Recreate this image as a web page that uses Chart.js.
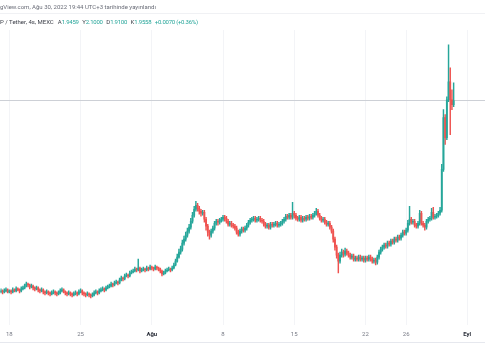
<!DOCTYPE html>
<html lang="tr">
<head>
<meta charset="utf-8">
<title>P / Tether, 4s, MEXC</title>
<script src="https://cdn.jsdelivr.net/npm/chart.js@4.4.1/dist/chart.umd.min.js"></script>
<style>
  html, body { margin: 0; padding: 0; background: #fff; }
  #wrap { position: relative; width: 485px; height: 360px; overflow: hidden; font-family: Roboto, sans-serif; }
  #chart { position: absolute; left: 0; top: 0; }
  .head { position: absolute; left: 0; white-space: nowrap; font-size: 6px; line-height: 8px; }
  #published { top: 3px; color: #6a6d78; }
  #sep { position: absolute; left: 0; top: 13px; width: 485px; height: 1px; background: #f0f1f4; }
  #legend { top: 18px; color: #3b3e47; }
  #legend span { margin-left: 3.5px; }
  #legend span:first-child { margin-left: 4px; }
  #legend b { font-weight: normal; color: #26a69a; letter-spacing: -0.25px; }
  #axisLine { position: absolute; left: 0; top: 342px; width: 485px; height: 1px; background: #e6e8ee; }
</style>
</head>
<body>
<div id="wrap">
  <canvas id="chart" width="485" height="360"></canvas>
  <div class="head" id="published">gView.com, Ağu 30, 2022 19:44 UTC+3 tarihinde yayınlandı</div>
  <div id="sep"></div>
  <div class="head" id="legend">P / Tether, 4s, MEXC<span>A<b>1.9459</b></span><span>Y<b>2.1000</b></span><span>D<b>1.9100</b></span><span>K<b>1.9558</b></span><span><b>+0.0070 (+0.36%)</b></span></div>
  <div id="axisLine"></div>
</div>
<script>
// 4 saatlik mumlar, 17 Temmuz 2022 04:00'dan başlayarak
const opens = [
  1.475,1.4775,1.475,1.4775,1.48,1.475,1.4775,1.475,1.48,1.4775,
  1.4825,1.48,1.4775,1.4825,1.485,1.49,1.495,1.4925,1.4875,1.49,
  1.485,1.4825,1.485,1.48,1.4775,1.48,1.475,1.4725,1.475,1.4725,
  1.47,1.4725,1.475,1.4725,1.47,1.4725,1.4775,1.48,1.475,1.4725,
  1.47,1.4725,1.47,1.4675,1.47,1.4725,1.47,1.475,1.4775,1.4725,
  1.47,1.4675,1.47,1.4675,1.465,1.4675,1.4725,1.475,1.4725,1.4775,
  1.48,1.4825,1.48,1.485,1.4875,1.49,1.495,1.4925,1.4975,1.5,
  1.4975,1.505,1.51,1.5075,1.515,1.5175,1.515,1.5225,1.525,1.5275,
  1.5325,1.53,1.535,1.5275,1.53,1.5325,1.53,1.535,1.5325,1.5375,
  1.535,1.5325,1.5375,1.535,1.5325,1.5275,1.52,1.5225,1.5275,1.53,
  1.5325,1.53,1.535,1.5425,1.5525,1.5625,1.575,1.5825,1.5975,1.6075,
  1.6175,1.6275,1.6375,1.6525,1.6675,1.6825,1.6925,1.685,1.6775,1.6725,
  1.675,1.6575,1.64,1.625,1.6175,1.6275,1.635,1.6475,1.6525,1.65,
  1.655,1.6575,1.6625,1.66,1.6525,1.645,1.6475,1.6425,1.64,1.635,
  1.625,1.62,1.6275,1.6325,1.63,1.635,1.6425,1.65,1.655,1.6575,
  1.66,1.655,1.6575,1.66,1.655,1.6525,1.645,1.64,1.6425,1.6375,
  1.645,1.6425,1.645,1.6475,1.6425,1.645,1.6475,1.6525,1.6575,1.665,
  1.6625,1.6675,1.6625,1.6725,1.6675,1.66,1.6575,1.6625,1.655,1.66,
  1.6575,1.6625,1.66,1.665,1.6625,1.6675,1.6725,1.6775,1.6675,1.66,
  1.655,1.6575,1.65,1.645,1.6475,1.6375,1.6275,1.6075,1.5875,1.5675,
  1.5525,1.5675,1.575,1.57,1.5775,1.5725,1.5675,1.5625,1.565,1.5575,
  1.56,1.5575,1.5625,1.5575,1.56,1.555,1.56,1.5575,1.5625,1.5575,
  1.5525,1.555,1.55,1.5625,1.575,1.5825,1.5875,1.5925,1.59,1.5975,
  1.595,1.6025,1.6,1.6075,1.605,1.6125,1.61,1.6175,1.625,1.6225,
  1.63,1.6475,1.6575,1.65,1.6525,1.6425,1.64,1.6475,1.6725,1.6475,
  1.6425,1.6375,1.6525,1.6575,1.66,1.675,1.6625,1.665,1.6675,1.6725,
  1.68,1.7825,1.9125,1.8625,1.9575,2.0025,1.9575,1.945
];
const highs = [
  1.4825,1.48,1.4825,1.485,1.4825,1.48,1.48,1.485,1.4825,1.4875,
  1.485,1.4825,1.4875,1.49,1.495,1.5,1.4975,1.495,1.495,1.4925,
  1.4875,1.49,1.4875,1.4825,1.485,1.4825,1.4775,1.48,1.4775,1.475,
  1.4775,1.48,1.4775,1.475,1.4775,1.4825,1.485,1.4825,1.4775,1.475,
  1.4775,1.475,1.4725,1.475,1.4775,1.475,1.48,1.4825,1.48,1.475,
  1.4725,1.475,1.4725,1.47,1.4725,1.4775,1.48,1.4775,1.4825,1.485,
  1.4875,1.485,1.49,1.4925,1.495,1.5,1.4975,1.5025,1.505,1.5025,
  1.51,1.515,1.5125,1.52,1.5225,1.52,1.5275,1.53,1.5325,1.5375,
  1.535,1.5575,1.5375,1.535,1.5375,1.535,1.54,1.5375,1.5425,1.54,
  1.5375,1.5425,1.54,1.5375,1.535,1.53,1.5275,1.5325,1.535,1.5375,
  1.535,1.54,1.5475,1.5575,1.57,1.5825,1.59,1.605,1.615,1.625,
  1.635,1.645,1.66,1.675,1.69,1.7025,1.6975,1.69,1.6825,1.68,
  1.68,1.6625,1.645,1.63,1.6325,1.64,1.6525,1.6575,1.6575,1.66,
  1.6625,1.6675,1.6675,1.665,1.6575,1.6525,1.6525,1.6475,1.645,1.64,
  1.63,1.6325,1.6375,1.6375,1.64,1.6475,1.655,1.66,1.6625,1.665,
  1.665,1.6625,1.665,1.665,1.66,1.6575,1.65,1.6475,1.6475,1.65,
  1.65,1.65,1.6525,1.6525,1.65,1.6525,1.6575,1.6625,1.67,1.67,
  1.6725,1.6725,1.7,1.6775,1.6725,1.665,1.6675,1.6675,1.665,1.665,
  1.6675,1.6675,1.67,1.67,1.6725,1.6775,1.685,1.6825,1.6725,1.665,
  1.6625,1.6625,1.655,1.6525,1.6525,1.6425,1.6325,1.6125,1.5925,1.5725,
  1.575,1.5825,1.58,1.585,1.5825,1.5775,1.5725,1.57,1.57,1.565,
  1.565,1.5675,1.5675,1.565,1.565,1.565,1.565,1.5675,1.5675,1.5625,
  1.56,1.56,1.5675,1.58,1.5875,1.5925,1.5975,1.5975,1.6025,1.6025,
  1.6075,1.6075,1.6125,1.6125,1.6175,1.6175,1.6225,1.63,1.63,1.635,
  1.655,1.69,1.6625,1.6575,1.6575,1.6475,1.6525,1.68,1.6775,1.6525,
  1.6475,1.6575,1.6625,1.665,1.685,1.6875,1.67,1.6725,1.6775,1.6875,
  1.795,1.9325,1.92,1.965,2.095,2.0375,1.9825,2.0
];
const lows = [
  1.4725,1.47,1.4725,1.475,1.4725,1.4725,1.47,1.4725,1.475,1.475,
  1.4775,1.4725,1.475,1.48,1.4825,1.4875,1.4875,1.4825,1.485,1.48,
  1.4775,1.48,1.475,1.4725,1.475,1.47,1.4675,1.47,1.4675,1.465,
  1.4675,1.47,1.4675,1.465,1.4675,1.47,1.475,1.4725,1.4675,1.465,
  1.4675,1.465,1.4625,1.465,1.4675,1.465,1.4675,1.4725,1.4675,1.465,
  1.4625,1.465,1.4625,1.46,1.4625,1.465,1.47,1.4675,1.47,1.475,
  1.4775,1.475,1.4775,1.4825,1.485,1.4875,1.4875,1.49,1.495,1.4925,
  1.495,1.5025,1.5025,1.505,1.5125,1.51,1.5125,1.52,1.5225,1.525,
  1.525,1.5275,1.5225,1.525,1.5275,1.525,1.5275,1.5275,1.53,1.53,
  1.5275,1.53,1.53,1.5275,1.5225,1.515,1.5175,1.52,1.525,1.5275,
  1.525,1.5275,1.5325,1.54,1.55,1.56,1.57,1.5775,1.5925,1.6025,
  1.6125,1.6225,1.6325,1.6475,1.6625,1.6775,1.6775,1.67,1.665,1.6675,
  1.65,1.63,1.615,1.6075,1.6125,1.6225,1.63,1.6425,1.6425,1.645,
  1.65,1.6525,1.6525,1.6475,1.64,1.64,1.6375,1.635,1.63,1.62,
  1.615,1.615,1.6225,1.625,1.625,1.63,1.6375,1.645,1.65,1.6525,
  1.65,1.65,1.6525,1.65,1.6475,1.64,1.635,1.635,1.6325,1.6325,
  1.6375,1.6375,1.64,1.6375,1.6375,1.64,1.6425,1.6475,1.6525,1.6575,
  1.6575,1.6575,1.6575,1.66,1.655,1.6525,1.6525,1.65,1.65,1.6525,
  1.6525,1.655,1.655,1.6575,1.6575,1.6625,1.6675,1.6625,1.655,1.65,
  1.65,1.645,1.64,1.64,1.6325,1.6225,1.6,1.58,1.56,1.5225,
  1.5475,1.5625,1.5625,1.565,1.5675,1.5625,1.5575,1.5575,1.5525,1.5525,
  1.5525,1.5525,1.5525,1.5525,1.55,1.55,1.5525,1.5525,1.5525,1.5475,
  1.5475,1.5425,1.545,1.5575,1.57,1.5775,1.5825,1.585,1.585,1.59,
  1.59,1.595,1.595,1.6,1.6,1.605,1.605,1.6125,1.6175,1.6175,
  1.625,1.6425,1.645,1.645,1.6375,1.635,1.635,1.6425,1.6425,1.6375,
  1.63,1.6325,1.6475,1.6525,1.655,1.6575,1.6575,1.66,1.6625,1.6675,
  1.675,1.7775,1.845,1.8575,1.9525,1.87,1.9325,1.94
];
const closes = [
  1.4775,1.475,1.4775,1.48,1.475,1.4775,1.475,1.48,1.4775,1.4825,
  1.48,1.4775,1.4825,1.485,1.49,1.495,1.4925,1.4875,1.49,1.485,
  1.4825,1.485,1.48,1.4775,1.48,1.475,1.4725,1.475,1.4725,1.47,
  1.4725,1.475,1.4725,1.47,1.4725,1.4775,1.48,1.475,1.4725,1.47,
  1.4725,1.47,1.4675,1.47,1.4725,1.47,1.475,1.4775,1.4725,1.47,
  1.4675,1.47,1.4675,1.465,1.4675,1.4725,1.475,1.4725,1.4775,1.48,
  1.4825,1.48,1.485,1.4875,1.49,1.495,1.4925,1.4975,1.5,1.4975,
  1.505,1.51,1.5075,1.515,1.5175,1.515,1.5225,1.525,1.5275,1.5325,
  1.53,1.535,1.5275,1.53,1.5325,1.53,1.535,1.5325,1.5375,1.535,
  1.5325,1.5375,1.535,1.5325,1.5275,1.52,1.5225,1.5275,1.53,1.5325,
  1.53,1.535,1.5425,1.5525,1.5625,1.575,1.5825,1.5975,1.6075,1.6175,
  1.6275,1.6375,1.6525,1.6675,1.6825,1.6925,1.685,1.6775,1.6725,1.675,
  1.6575,1.64,1.625,1.6175,1.6275,1.635,1.6475,1.6525,1.65,1.655,
  1.6575,1.6625,1.66,1.6525,1.645,1.6475,1.6425,1.64,1.635,1.625,
  1.62,1.6275,1.6325,1.63,1.635,1.6425,1.65,1.655,1.6575,1.66,
  1.655,1.6575,1.66,1.655,1.6525,1.645,1.64,1.6425,1.6375,1.645,
  1.6425,1.645,1.6475,1.6425,1.645,1.6475,1.6525,1.6575,1.665,1.6625,
  1.6675,1.6625,1.6725,1.6675,1.66,1.6575,1.6625,1.655,1.66,1.6575,
  1.6625,1.66,1.665,1.6625,1.6675,1.6725,1.6775,1.6675,1.66,1.655,
  1.6575,1.65,1.645,1.6475,1.6375,1.6275,1.6075,1.5875,1.5675,1.5525,
  1.5675,1.575,1.57,1.5775,1.5725,1.5675,1.5625,1.565,1.5575,1.56,
  1.5575,1.5625,1.5575,1.56,1.555,1.56,1.5575,1.5625,1.5575,1.5525,
  1.555,1.55,1.5625,1.575,1.5825,1.5875,1.5925,1.59,1.5975,1.595,
  1.6025,1.6,1.6075,1.605,1.6125,1.61,1.6175,1.625,1.6225,1.63,
  1.6475,1.6575,1.65,1.6525,1.6425,1.64,1.6475,1.6725,1.6475,1.6425,
  1.6375,1.6525,1.6575,1.66,1.675,1.6625,1.665,1.6675,1.6725,1.68,
  1.7825,1.9125,1.8625,1.9575,2.0025,1.9575,1.945,1.955
];

// zaman ekseni etiketleri
const tickDates = ['2022-07-18', '2022-07-25', '2022-08-01', '2022-08-08', '2022-08-15', '2022-08-22', '2022-08-26', '2022-09-01'];
const tickLabels = ['18', '25', 'Ağu', '8', '15', '22', '26', 'Eyl'];
const monthLabels = ['Ağu', 'Eyl'];

const lastPrice = 1.9558;
const priceMin = 1.3925;
const priceMax = 2.1325;

const H4 = 4 * 3600 * 1000;
const firstCandle = Date.UTC(2022, 6, 17, 4);
const times = closes.map((_, i) => firstCandle + i * H4);
const tickTimes = tickDates.map(d => Date.parse(d + 'T00:00:00Z'));
const viewStart = firstCandle - 0.3 * H4;
const viewEnd = firstCandle + 285.5 * H4;

const upColor = '#26a69a';
const downColor = '#ef5350';
const candleColor = ctx => closes[ctx.dataIndex] >= opens[ctx.dataIndex] ? upColor : downColor;
const isMonth = ctx => !!(ctx.tick && monthLabels.includes(ctx.tick.label));

// yatay fiyat çizgisi (mumların arkasında)
const priceLine = {
  id: 'priceLine',
  beforeDatasetsDraw(chart) {
    const { ctx, scales } = chart;
    const y = Math.round(scales.y.getPixelForValue(lastPrice)) + 0.5;
    ctx.save();
    ctx.strokeStyle = '#cdd0d6';
    ctx.lineWidth = 1;
    ctx.beginPath();
    ctx.moveTo(0, y);
    ctx.lineTo(chart.width, y);
    ctx.stroke();
    ctx.restore();
  }
};

new Chart(document.getElementById('chart'), {
  type: 'bar',
  data: {
    datasets: [
      {
        label: 'fitil',
        data: times.map((t, i) => ({ x: t, y: [lows[i], highs[i]] })),
        backgroundColor: candleColor,
        barThickness: 0.8,
        grouped: false,
        order: 2
      },
      {
        label: 'gövde',
        data: times.map((t, i) => ({ x: t, y: [opens[i], closes[i]] })),
        backgroundColor: candleColor,
        barThickness: 1.2,
        minBarLength: 1,
        grouped: false,
        order: 1
      }
    ]
  },
  options: {
    responsive: false,
    animation: false,
    devicePixelRatio: 1,
    layout: { padding: { top: 30, bottom: 16, left: 0, right: 0 } },
    plugins: {
      legend: { display: false },
      tooltip: { enabled: false }
    },
    scales: {
      x: {
        type: 'linear',
        min: viewStart,
        max: viewEnd,
        offset: false,
        grid: { color: '#f3f4f7', drawTicks: false, offset: false },
        border: { display: false },
        afterBuildTicks: axis => {
          axis.ticks = tickTimes.map(v => ({ value: v }));
        },
        ticks: {
          autoSkip: false,
          maxRotation: 0,
          padding: 6,
          callback: v => tickLabels[tickTimes.indexOf(v)],
          color: ctx => isMonth(ctx) ? '#2a2e39' : '#787b86',
          font: ctx => ({
            family: 'Roboto',
            size: 6,
            weight: isMonth(ctx) ? 'bold' : 'normal'
          })
        }
      },
      y: {
        display: false,
        min: priceMin,
        max: priceMax
      }
    }
  },
  plugins: [priceLine]
});
</script>
</body>
</html>
